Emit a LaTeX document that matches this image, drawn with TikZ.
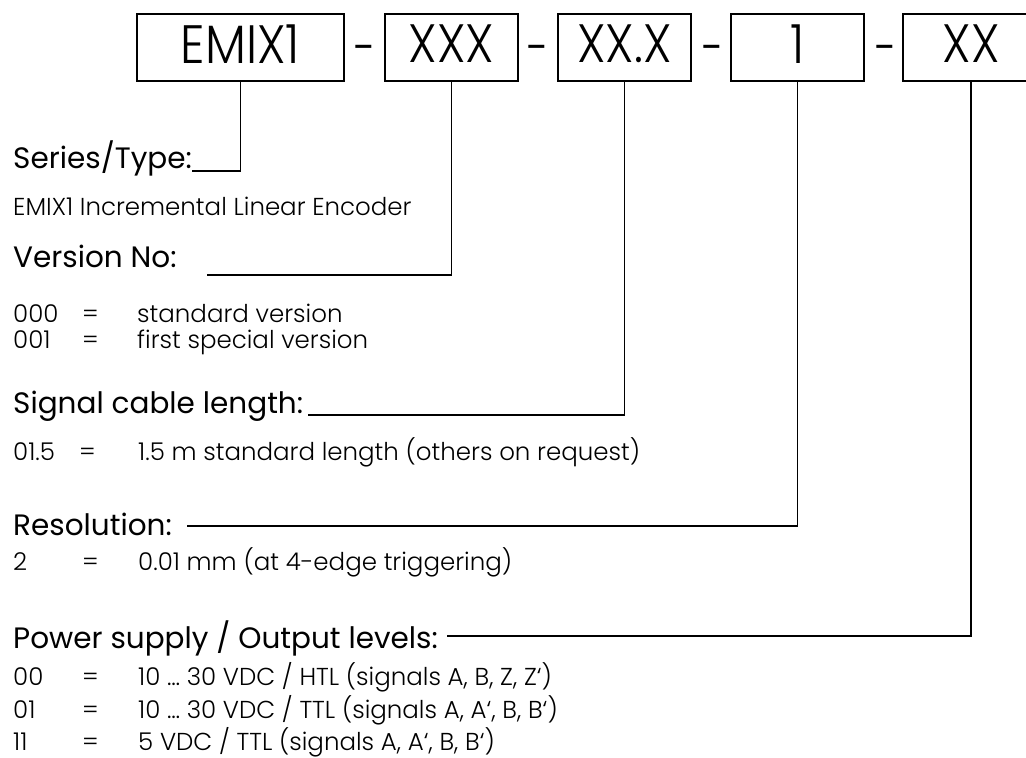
\documentclass[tikz,border=0pt]{standalone}
\usepackage{fontspec}
\setmainfont{Poppins}[UprightFont={* Light}]
\newfontfamily\boxfont{Poppins}[UprightFont={* Light},FakeStretch=0.9]
\newfontfamily\headfont{Poppins}
\begin{document}
\begin{tikzpicture}[x=1pt,y=-1pt,
  codebox/.style={draw, line width=1.8pt, minimum height=67pt, inner sep=0pt, text depth=7pt, font=\boxfont\fontsize{54}{54}\selectfont},
  head/.style={anchor=base west, inner sep=0pt, font=\headfont\fontsize{29.5}{29.5}\selectfont},
  body/.style={anchor=base west, inner sep=0pt, font=\fontsize{24.5}{24.5}\selectfont},
  sepmark/.style={inner sep=0pt, font=\headfont\fontsize{40}{40}\selectfont},
  link/.style={line width=1.8pt}]
\clip (0,0) rectangle (1026,758);
% code boxes
\node[codebox, minimum width=207pt] (b1) at (240.5,47.5) {EMIX1};
\node[codebox, minimum width=133pt] (b2) at (451.5,47.5) {XXX};
\node[codebox, minimum width=133pt] (b3) at (624.5,47.5) {XX.X};
\node[codebox, minimum width=133pt] (b4) at (797.5,47.5) {1};
\node[codebox, minimum width=136pt] (b5) at (971,47.5) {XX};
% separators
\node[sepmark] (d1) at (364.5,53) {-};
\node[sepmark] (d2) at (538,53) {-};
\node[sepmark] (d3) at (712.5,53) {-};
\node[sepmark] (d4) at (886,53) {-};
% headings
\node[head] (h1) at (13,168) {Series/Type:};
\node[head] (h2) at (13,267) {Version No:};
\node[head] (h3) at (13,413) {Signal cable length:};
\node[head] (h4) at (13,535) {Resolution:};
\node[head] (h5) at (13,648) {Power supply / Output levels:};
% connector ends
\coordinate (c1) at (192,171);
\coordinate (c2) at (207,275);
\coordinate (c3) at (308,415);
\coordinate (c4) at (187,526);
\coordinate (c5) at (447,636);
\draw[link] (b1.south) |- (c1);
\draw[link] (b2.south) |- (c2);
\draw[link] (b3.south) |- (c3);
\draw[link] (b4.south) |- (c4);
\draw[link] (b5.south) |- (c5);
% body texts
\node[body] (t1) at (13,215) {EMIX1 Incremental Linear Encoder};
\node[body] (k1) at (13,322) {000};
\node[body] (e1) at (82,322) {=};
\node[body] (v1) at (137,322) {standard version};
\node[body] (k2) at (13,348) {001};
\node[body] (e2) at (82,348) {=};
\node[body] (v2) at (137,348) {first special version};
\node[body] (k3) at (13,460) {01.5};
\node[body] (e3) at (79,460) {=};
\node[body] (v3) at (138,460) {1.5 m standard length (others on request)};
\node[body] (k4) at (13,570) {2};
\node[body] (e4) at (82,570) {=};
\node[body] (v4) at (138,570) {0.01 mm (at 4-edge triggering)};
\node[body] (k5) at (13,685) {00};
\node[body] (e5) at (82,685) {=};
\node[body] (v5) at (138,685) {10 … 30 VDC / HTL (signals A, B, Z, Z‘)};
\node[body] (k6) at (13,718) {01};
\node[body] (e6) at (82,718) {=};
\node[body] (v6) at (138,718) {10 … 30 VDC / TTL (signals A, A‘, B, B‘)};
\node[body] (k7) at (13,750) {11};
\node[body] (e7) at (82,750) {=};
\node[body] (v7) at (138,750) {5 VDC / TTL (signals A, A‘, B, B‘)};
\end{tikzpicture}
\end{document}
